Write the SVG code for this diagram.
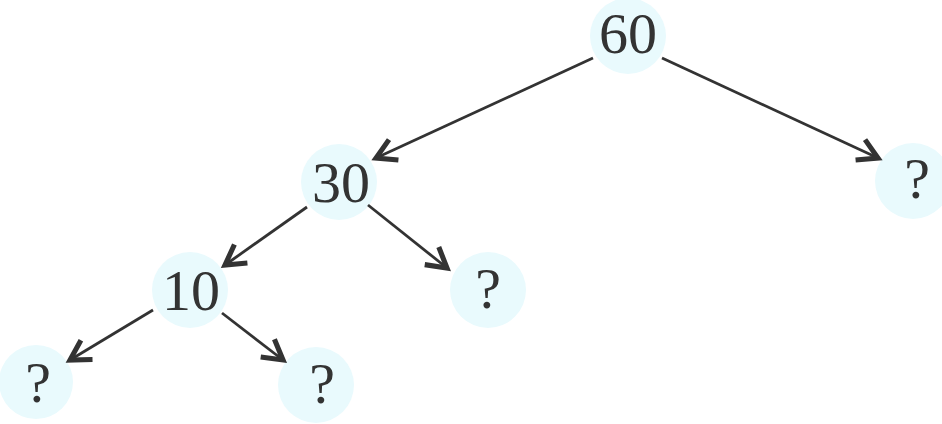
<svg xmlns="http://www.w3.org/2000/svg" width="942" height="424" viewBox="0 0 942 424">
<style>
.bg{fill:#e9fafd}
.t{font-family:"Liberation Serif","Times New Roman",serif;font-size:58px;fill:#333;text-anchor:middle}
.e{stroke:#333;stroke-width:2.8;fill:none}
</style>
<defs>
<marker id="ah" markerUnits="userSpaceOnUse" markerWidth="30" markerHeight="30" refX="16" refY="10" orient="auto" viewBox="0 0 20 20">
<path d="M3,2.5 L16,10 L3,17.5" fill="none" stroke="#333" stroke-width="3.4" stroke-linejoin="miter"/>
</marker>
</defs>
<rect width="942" height="424" fill="#fff"/>
<g id="n60"><circle class="bg" cx="628" cy="36" r="38"/><text class="t" x="628" y="53">60</text></g>
<g id="n30"><circle class="bg" cx="339" cy="182" r="38"/><text class="t" x="341" y="202">30</text></g>
<g id="nq1"><circle class="bg" cx="913" cy="181" r="38"/><text class="t" x="917" y="198">?</text></g>
<g id="n10"><circle class="bg" cx="190" cy="290" r="38"/><text class="t" x="191" y="310">10</text></g>
<g id="nq2"><circle class="bg" cx="488" cy="290" r="38"/><text class="t" x="488" y="308">?</text></g>
<g id="nq3"><circle class="bg" cx="36" cy="382" r="37"/><text class="t" x="38" y="402">?</text></g>
<g id="nq4"><circle class="bg" cx="316" cy="385" r="38"/><text class="t" x="322" y="403">?</text></g>
<g id="edges">
<line class="e" x1="593" y1="58" x2="376" y2="158" marker-end="url(#ah)"/>
<line class="e" x1="662" y1="58" x2="878" y2="158" marker-end="url(#ah)"/>
<line class="e" x1="307" y1="207" x2="225" y2="265" marker-end="url(#ah)"/>
<line class="e" x1="368" y1="205" x2="447" y2="268" marker-end="url(#ah)"/>
<line class="e" x1="153" y1="310" x2="70" y2="360" marker-end="url(#ah)"/>
<line class="e" x1="222" y1="313" x2="283" y2="360" marker-end="url(#ah)"/>
</g>
</svg>
